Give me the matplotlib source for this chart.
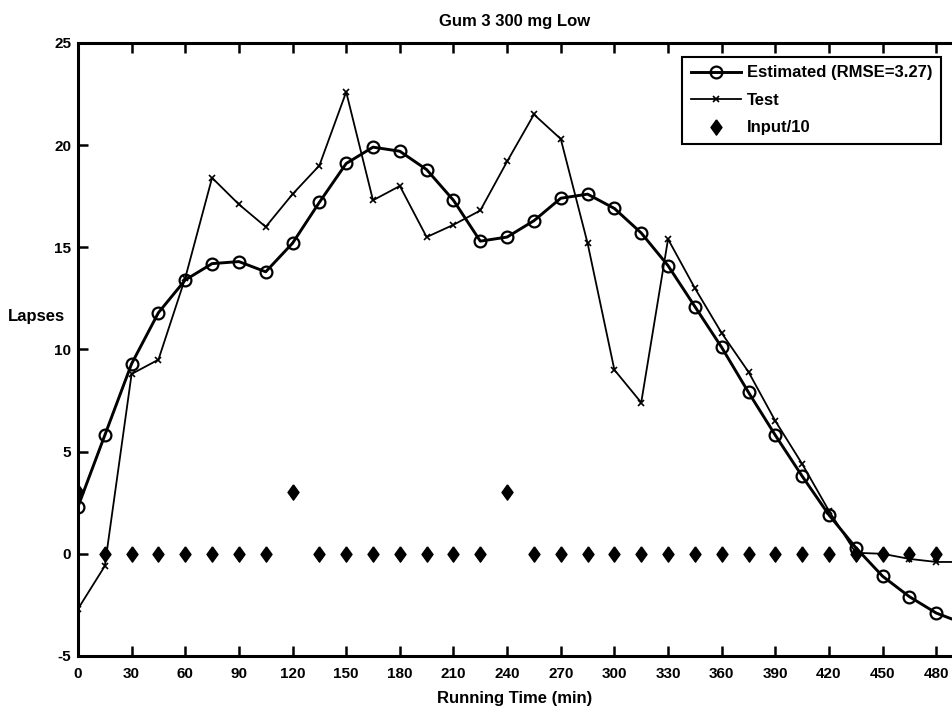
#!/usr/bin/env python3
"""
Gum 3 300 mg Low: estimated vs test lapses over running time.
"""
import matplotlib
matplotlib.use('Agg')
import matplotlib.pyplot as plt

# running time (min), sampled every 15 min
time_min = [0, 15, 30, 45, 60, 75, 90, 105, 120, 135, 150, 165, 180, 195, 210, 225,
            240, 255, 270, 285, 300, 315, 330, 345, 360, 375, 390, 405, 420, 435,
            450, 465, 480, 495]

estimated = [2.3, 5.8, 9.3, 11.8, 13.4, 14.2, 14.3, 13.8, 15.2, 17.2, 19.1, 19.9,
             19.7, 18.8, 17.3, 15.3, 15.5, 16.3, 17.4, 17.6, 16.9, 15.7, 14.1, 12.1,
             10.1, 7.9, 5.8, 3.8, 1.9, 0.3, -1.1, -2.1, -2.9, -3.4]

test = [-2.7, -0.6, 8.8, 9.5, 13.5, 18.4, 17.1, 16.0, 17.6, 19.0, 22.6, 17.3,
        18.0, 15.5, 16.1, 16.8, 19.2, 21.5, 20.3, 15.2, 9.0, 7.4, 15.4, 13.0,
        10.8, 8.9, 6.5, 4.4, 2.1, 0.05, 0.0, -0.25, -0.4, -0.4]

input_10 = [3, 0, 0, 0, 0, 0, 0, 0, 3, 0, 0, 0, 0, 0, 0, 0,
            3, 0, 0, 0, 0, 0, 0, 0, 0, 0, 0, 0, 0, 0, 0, 0, 0, 0]

x_ticks = [0, 30, 60, 90, 120, 150, 180, 210, 240, 270, 300, 330, 360, 390, 420, 450, 480]
y_ticks = [-5, 0, 5, 10, 15, 20, 25]

legend_labels = ['Estimated (RMSE=3.27)', 'Test', 'Input/10']

# no narrow face available, so Liberation Sans at a smaller size
plt.rcParams['font.family'] = ['Liberation Sans', 'DejaVu Sans']
plt.rcParams['font.weight'] = 'bold'
plt.rcParams['axes.unicode_minus'] = False

fig = plt.figure(figsize=(9.52, 7.12), dpi=100)
ax = fig.add_axes([0.0819, 0.0787, 0.9181, 0.861])

# diamond a bit narrower than tall
diamond = [(0, 1), (0.72, 0), (0, -1), (-0.72, 0), (0, 1)]

ax.plot(time_min, estimated, '-o', color='black', linewidth=2.1,
        markersize=8.5, markerfacecolor='none', markeredgewidth=1.6,
        label=legend_labels[0])
ax.plot(time_min, test, '-x', color='black', linewidth=1.3,
        markersize=4.5, markeredgewidth=1.2, label=legend_labels[1])
ax.plot(time_min, input_10, linestyle='none', marker=diamond, color='black',
        markersize=11, label=legend_labels[2])

ax.set_xlim(0, 488.8)
ax.set_ylim(-5, 25)
ax.set_xticks(x_ticks)
ax.set_yticks(y_ticks)

ax.spines['right'].set_visible(False)
for side in ['left', 'top', 'bottom']:
    ax.spines[side].set_linewidth(2.2)

ax.tick_params(axis='both', direction='in', length=7, width=1.8,
               labelsize=11, top=True, right=False)
ax.tick_params(axis='x', pad=8)
ax.tick_params(axis='y', pad=5)

ax.set_title('Gum 3 300 mg Low', fontsize=12, fontweight='bold', pad=12)
ax.set_xlabel('Running Time (min)', fontsize=12, fontweight='bold', labelpad=7)
ax.set_ylabel('Lapses', fontsize=12, fontweight='bold', rotation=0,
              ha='center', va='center')
ax.yaxis.set_label_coords(-0.047, 0.553)

leg = ax.legend(loc='upper right', bbox_to_anchor=(0.9875, 0.977),
                fontsize=12, frameon=True, fancybox=False, shadow=False,
                handlelength=3.0, handletextpad=0.4, labelspacing=0.75,
                borderpad=0.5, borderaxespad=0.0)
leg.get_frame().set_edgecolor('black')
leg.get_frame().set_linewidth(1.5)
leg.get_frame().set_alpha(1.0)

plt.savefig('out.png', dpi=100)
print('Saved to out.png')
